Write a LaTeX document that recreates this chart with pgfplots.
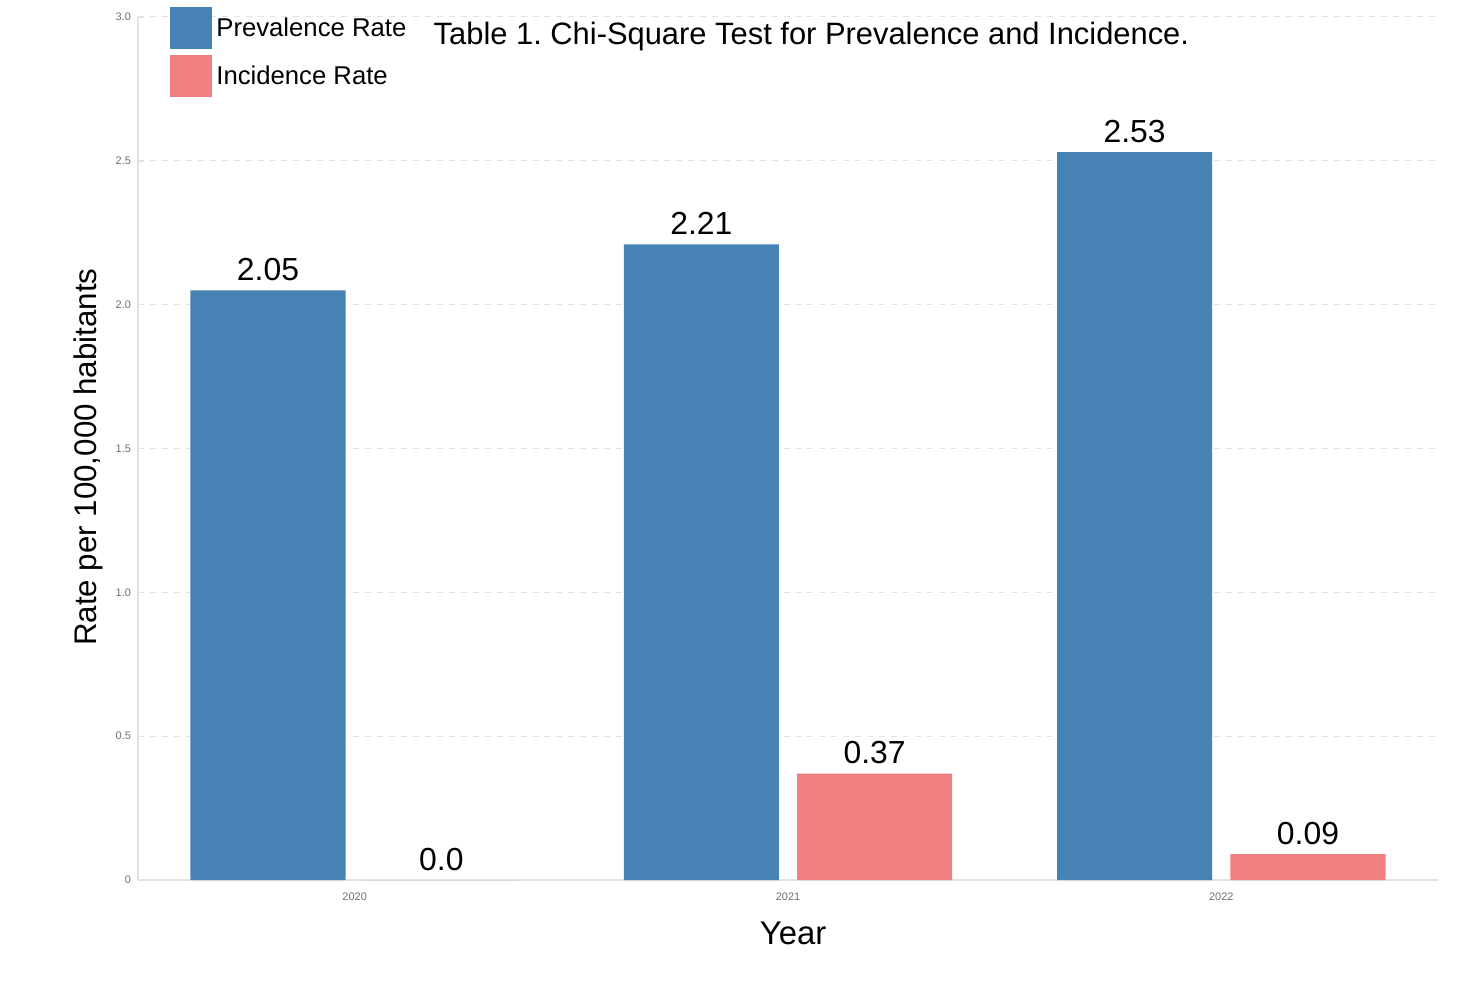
\documentclass[border=0pt]{standalone}
\usepackage{pgfplots}
\pgfplotsset{compat=1.18}
\usepackage{fontspec}
\setmainfont{Liberation Sans}
\frenchspacing
\definecolor{prev}{RGB}{70,130,180}
\definecolor{inc}{RGB}{240,128,128}
\definecolor{tickgray}{RGB}{110,110,110}
\definecolor{gridgray}{RGB}{226,226,226}
\begin{document}
\begin{tikzpicture}
\path[use as bounding box] (-69bp,-53bp) rectangle (673bp,440bp);
\begin{axis}[
	at={(0,0)}, anchor=south west,
	scale only axis, width=650bp, height=431.5bp,
	xmin=-0.5, xmax=2.5, ymin=0, ymax=3,
	ybar, bar width=0.358,
	xtick={0,1,2}, xticklabels={2020,2021,2022},
	ytick={0,0.5,...,3}, yticklabels={0,0.5,1.0,1.5,2.0,2.5,3.0},
	axis x line*=bottom, axis y line*=left,
	axis line style={draw=gridgray, line width=0.6bp},
	ymajorgrids, grid style={dashed, draw=gridgray, line width=0.5bp},
	major tick length=3bp, ytick style={draw=gridgray}, xtick style={draw=none},
	tick label style={font=\fontsize{5.5}{6}\selectfont, text=tickgray},
	/pgf/number format/assume math mode=true,
	nodes near coords, point meta=explicit symbolic,
	nodes near coords style={font=\fontsize{16}{18}\selectfont, text=black, anchor=south, inner sep=0pt, yshift=4.5bp},
	xlabel={Year}, ylabel={Rate per 100,000 habitants},
	xlabel style={font=\fontsize{16.5}{18}\selectfont, at={(axis description cs:0.504,-0.0614)}, anchor=center},
	ylabel style={font=\fontsize{15.7}{18}\selectfont, at={(axis description cs:-0.0385,0.49)}, anchor=center},
	title={Table 1. Chi-Square Test for Prevalence and Incidence.},
	title style={at={(rel axis cs:0.518,0.9676)}, anchor=base, yshift=-6bp, font=\fontsize{15.5}{17}\selectfont},
	legend style={at={(rel axis cs:0.0246,1.0116)}, anchor=north west, draw=none, fill=none,
		font=\fontsize{12.9}{14}\selectfont, inner sep=0pt, row sep=3bp},
	legend cell align=left,
	every axis plot post/.append style={legend image code/.code={\fill[##1] (0bp,-10.5bp) rectangle (21bp,10.5bp);}},
]
\addplot[fill=prev, draw=none, bar shift=-0.2] coordinates {(0,2.05)[2.05] (1,2.21)[2.21] (2,2.53)[2.53]};
\addplot[fill=inc, draw=none, bar shift=0.2] coordinates {(0,0)[0.0] (1,0.37)[0.37] (2,0.09)[0.09]};
\legend{Prevalence Rate, Incidence Rate}
\end{axis}
\end{tikzpicture}
\end{document}
